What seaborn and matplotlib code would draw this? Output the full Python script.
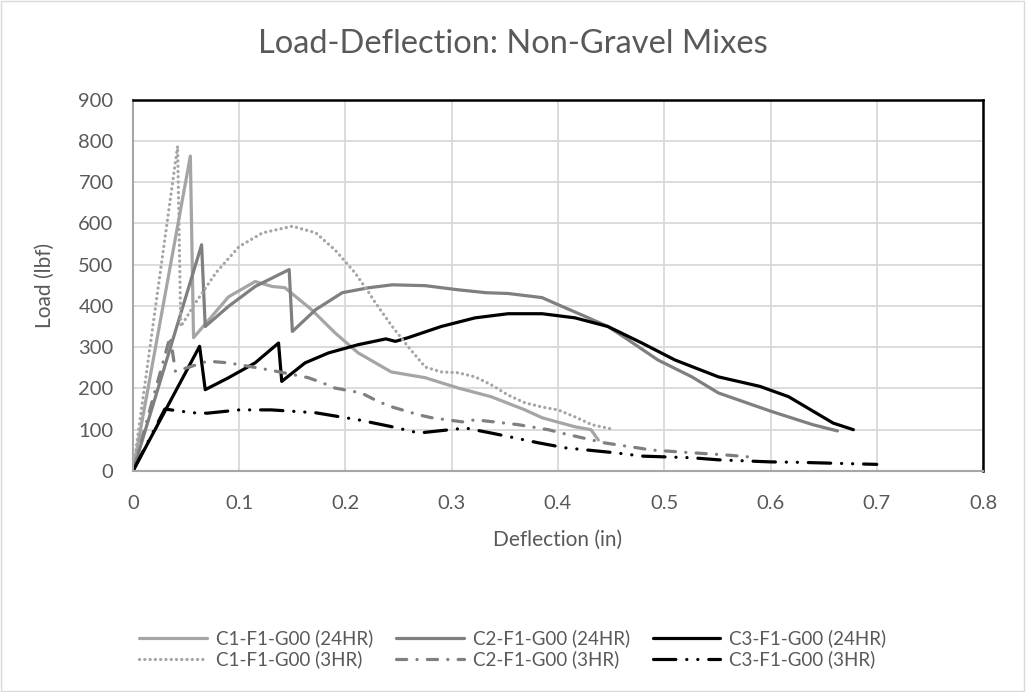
import matplotlib
matplotlib.use('Agg')
import matplotlib.pyplot as plt
import seaborn as sns
import pandas as pd
from matplotlib.patches import Rectangle

# data (deflection in, load lbf)
c1_24_x = [0, 0.054, 0.057, 0.074, 0.09, 0.115, 0.131, 0.143, 0.168, 0.19, 0.212, 0.243, 0.275,
           0.306, 0.337, 0.369, 0.385, 0.416, 0.431, 0.438]
c1_24_y = [0, 763, 323, 374, 422, 459, 447, 444, 391, 335, 286, 240, 226,
           201, 180, 148, 129, 107, 100, 75]

c2_24_x = [0, 0.0646, 0.068, 0.09, 0.115, 0.147, 0.15, 0.172, 0.197, 0.222, 0.244, 0.275, 0.306,
           0.332, 0.353, 0.385, 0.4, 0.426, 0.447, 0.463, 0.494, 0.526, 0.551, 0.6, 0.64, 0.663]
c2_24_y = [0, 548, 350, 399, 447, 488, 338, 391, 432, 444, 451, 449, 439,
           432, 430, 420, 403, 374, 350, 323, 269, 228, 189, 145, 112, 97]

c3_24_x = [0, 0.0627, 0.068, 0.09, 0.115, 0.137, 0.14, 0.162, 0.184, 0.212, 0.238, 0.247, 0.259,
           0.29, 0.322, 0.353, 0.385, 0.416, 0.447, 0.479, 0.51, 0.551, 0.59, 0.617, 0.659, 0.678]
c3_24_y = [0, 302, 197, 226, 262, 310, 217, 262, 286, 306, 320, 314, 323,
           350, 371, 381, 381, 371, 350, 310, 269, 228, 205, 180, 116, 100]

c1_3_x = [0, 0.042, 0.045, 0.059, 0.078, 0.1, 0.122, 0.15, 0.172, 0.19, 0.209, 0.222, 0.228,
          0.244, 0.259, 0.275, 0.29, 0.306, 0.322, 0.337, 0.353, 0.369, 0.385, 0.4, 0.416, 0.432, 0.45]
c1_3_y = [0, 787, 350, 408, 480, 544, 577, 593, 577, 536, 480, 432, 408,
          350, 301, 252, 240, 238, 228, 209, 184, 165, 155, 148, 131, 112, 102]

c2_3_x = [0, 0.035, 0.04, 0.07, 0.09, 0.128, 0.165, 0.178, 0.19, 0.215, 0.231, 0.244, 0.269,
          0.281, 0.31, 0.322, 0.35, 0.363, 0.391, 0.403, 0.432, 0.444, 0.475, 0.487, 0.515,
          0.527, 0.557, 0.585]
c2_3_y = [0, 326, 241, 266, 262, 245, 226, 214, 201, 189, 168, 155, 136,
          129, 119, 124, 116, 112, 100, 92, 75, 68, 56, 51, 46,
          44, 39, 33]

c3_3_x = [0, 0.03, 0.056, 0.07, 0.1, 0.13, 0.172, 0.2, 0.212, 0.244, 0.269, 0.313, 0.337,
          0.382, 0.407, 0.454, 0.479, 0.526, 0.551, 0.6, 0.626, 0.685, 0.7]
c3_3_y = [0, 150, 141, 140, 148, 148, 141, 129, 124, 107, 92, 104, 92,
          68, 56, 44, 36, 32, 27, 22, 21, 17, 16]

labels = ['C1-F1-G00 (24HR)', 'C2-F1-G00 (24HR)', 'C3-F1-G00 (24HR)',
          'C1-F1-G00 (3HR)', 'C2-F1-G00 (3HR)', 'C3-F1-G00 (3HR)']
xs = [c1_24_x, c2_24_x, c3_24_x, c1_3_x, c2_3_x, c3_3_x]
ys = [c1_24_y, c2_24_y, c3_24_y, c1_3_y, c2_3_y, c3_3_y]

light = '#A5A5A5'
mid = '#7F7F7F'
dark = '#000000'
txt = '#595959'
colores = [light, mid, dark, light, mid, dark]
estilos = ['-', '-', '-',
           (0, (0.05, 1.6)),
           (0, (3.2, 3.2, 0.05, 3.2)),
           (0, (7, 3.4, 0.05, 3.4, 0.05, 3.4))]

sns.set_style('white')
plt.rcParams['font.family'] = ['Lato', 'DejaVu Sans']

fig = plt.figure(figsize=(10.26, 6.92), dpi=100)
ax = fig.add_axes([0.1296, 0.3194, 0.9581 - 0.1296, 0.8562 - 0.3194])

for x, y, lab, c, ls in zip(xs, ys, labels, colores, estilos):
    df = pd.DataFrame({'x': x, 'y': y})
    sns.lineplot(data=df, x='x', y='y', ax=ax, color=c, linestyle=ls, linewidth=2.3,
                 label=lab, sort=False, estimator=None,
                 dash_capstyle='round', solid_capstyle='round', legend=False)

ax.set_xlim(0, 0.8)
ax.set_ylim(0, 900)
ax.set_xticks([0, 0.1, 0.2, 0.3, 0.4, 0.5, 0.6, 0.7, 0.8])
ax.set_xticklabels(['0', '0.1', '0.2', '0.3', '0.4', '0.5', '0.6', '0.7', '0.8'])
ax.set_yticks(range(0, 901, 100))
ax.grid(True, color='#D9D9D9', linewidth=1.3)
ax.set_axisbelow(True)
ax.tick_params(length=0, labelsize=14.5, labelcolor=txt)
ax.tick_params(axis='x', pad=17)
ax.tick_params(axis='y', pad=14)
for s in ['left', 'bottom']:
    ax.spines[s].set_color('#A6A6A6')
    ax.spines[s].set_linewidth(1.5)
for s in ['top', 'right']:
    ax.spines[s].set_color('#000000')
    ax.spines[s].set_linewidth(1.8)

ax.set_xlabel('Deflection (in)', fontsize=15, color=txt, labelpad=13)
ax.set_ylabel('Load (lbf)', fontsize=15, color=txt, labelpad=17)
fig.suptitle('Load-Deflection: Non-Gravel Mixes', fontsize=23.5, color=txt, y=0.958)

# legend in Excel order: row 1 = 24HR, row 2 = 3HR
h, l = ax.get_legend_handles_labels()
order = [0, 3, 1, 4, 2, 5]
fig.legend([h[i] for i in order], [l[i] for i in order], loc='center',
           bbox_to_anchor=(0.5, 0.0625), ncol=3, frameon=False, fontsize=13.5,
           labelcolor=txt, handlelength=3.6, columnspacing=1.2, handletextpad=0.5,
           labelspacing=0.15)

fig.patches.append(Rectangle((0.001, 0.001), 0.997, 0.997, transform=fig.transFigure,
                             fill=False, edgecolor='#D9D9D9', linewidth=1))

plt.savefig('out.png', dpi=100)
